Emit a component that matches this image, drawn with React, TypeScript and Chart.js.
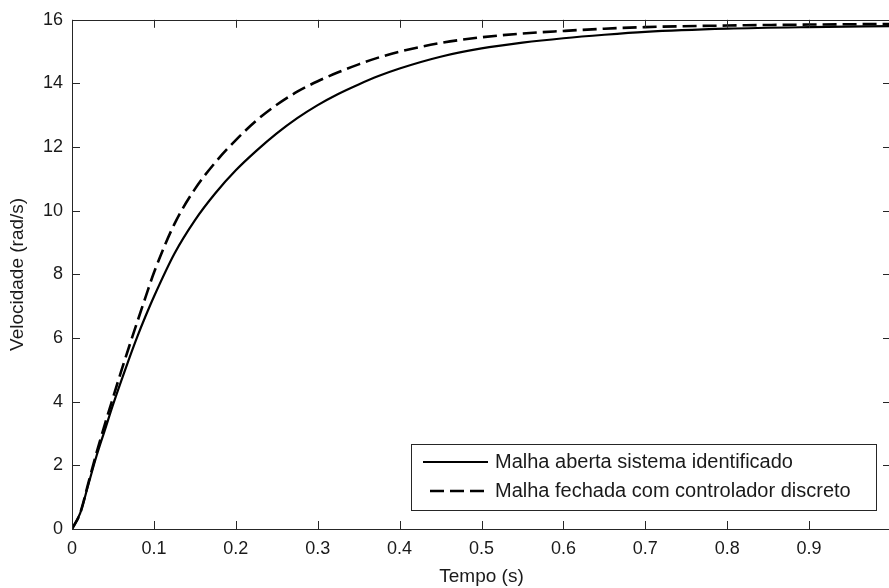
import React, { useEffect, useRef } from "react";
import { Chart, registerables } from "chart.js";

Chart.register(...registerables);

// ---- data ----
const timeSeconds = [
  0, 0.01, 0.02, 0.03, 0.04, 0.05, 0.06, 0.07, 0.08, 0.09, 0.1,
  0.125, 0.15, 0.175, 0.2, 0.225, 0.25, 0.275, 0.3, 0.325, 0.35, 0.375, 0.4,
  0.45, 0.5, 0.55, 0.6, 0.65, 0.7, 0.8, 0.9, 1.0,
];
const openLoopValues = [
  0, 0.5, 1.4, 2.3, 3.1, 3.9, 4.65, 5.37, 6.06, 6.7, 7.3,
  8.65, 9.7, 10.55, 11.27, 11.88, 12.43, 12.91, 13.32, 13.67, 13.97, 14.24, 14.47,
  14.84, 15.1, 15.28, 15.42, 15.53, 15.62, 15.72, 15.77, 15.8,
];
const closedLoopValues = [
  0, 0.5, 1.45, 2.4, 3.28, 4.12, 4.95, 5.75, 6.53, 7.3, 8.05,
  9.58, 10.68, 11.52, 12.22, 12.83, 13.33, 13.74, 14.07, 14.35, 14.6, 14.82, 15.0,
  15.27, 15.45, 15.57, 15.65, 15.72, 15.77, 15.82, 15.85, 15.87,
];
const seriesLabels = [
  "Malha aberta sistema identificado",
  "Malha fechada com controlador discreto",
];
const xTitle = "Tempo (s)";
const yTitle = "Velocidade (rad/s)";
const xRange = [0, 1];
const yRange = [0, 16];
const xStep = 0.1;
const yStep = 2;

const FONT = "'Liberation Sans', Arial, sans-serif";
const INK = "#1a1a1a";

const framePlugin = {
  id: "matlabFrame",
  afterDraw(chart: any) {
    const { ctx, chartArea: a, scales } = chart;
    ctx.save();
    ctx.strokeStyle = "#262626";
    ctx.lineWidth = 1;
    ctx.beginPath();
    ctx.rect(Math.round(a.left) + 0.5, Math.round(a.top) + 0.5, Math.round(a.right - a.left), Math.round(a.bottom - a.top));
    ctx.stroke();
    const tl = 8;
    ctx.beginPath();
    scales.x.ticks.forEach((t: any) => {
      const px = Math.round(scales.x.getPixelForValue(t.value)) + 0.5;
      ctx.moveTo(px, a.bottom);
      ctx.lineTo(px, a.bottom - tl);
      ctx.moveTo(px, a.top);
      ctx.lineTo(px, a.top + tl);
    });
    scales.y.ticks.forEach((t: any) => {
      const py = Math.round(scales.y.getPixelForValue(t.value)) + 0.5;
      ctx.moveTo(a.left, py);
      ctx.lineTo(a.left + tl, py);
      ctx.moveTo(a.right, py);
      ctx.lineTo(a.right - tl, py);
    });
    ctx.stroke();

    // legend box
    const boxW = 465;
    const boxH = 66;
    const R = a.right - 15;
    const B = a.bottom - 19;
    const L = R - boxW;
    const T = B - boxH;
    ctx.fillStyle = "#ffffff";
    ctx.fillRect(L, T, boxW, boxH);
    ctx.strokeStyle = "#262626";
    ctx.lineWidth = 1;
    ctx.strokeRect(Math.round(L) + 0.5, Math.round(T) + 0.5, boxW, boxH);
    const rows = [T + 18, T + 47];
    chart.data.datasets.forEach((ds: any, i: number) => {
      const y = rows[i];
      ctx.save();
      ctx.strokeStyle = ds.borderColor;
      ctx.lineWidth = ds.borderWidth;
      ctx.setLineDash(ds.borderDash || []);
      ctx.beginPath();
      if (ds.borderDash && ds.borderDash.length) {
        ctx.moveTo(L + 19, y);
      } else {
        ctx.moveTo(L + 12, y);
      }
      ctx.lineTo(L + 77, y);
      ctx.stroke();
      ctx.restore();
      ctx.fillStyle = INK;
      ctx.font = `20px ${FONT}`;
      ctx.textAlign = "left";
      ctx.textBaseline = "middle";
      ctx.fillText(ds.label, L + 84, y);
    });
    ctx.restore();
  },
};

export default function App() {
  const ref = useRef<HTMLCanvasElement | null>(null);
  useEffect(() => {
    if (!ref.current) return;
    const chart = new Chart(ref.current, {
      type: "line",
      data: {
        datasets: [
          {
            label: seriesLabels[0],
            data: timeSeconds.map((t, i) => ({ x: t, y: openLoopValues[i] })),
            borderColor: "#000000",
            borderWidth: 2.2,
            pointRadius: 0,
            cubicInterpolationMode: "monotone",
            fill: false,
          },
          {
            label: seriesLabels[1],
            data: timeSeconds.map((t, i) => ({ x: t, y: closedLoopValues[i] })),
            borderColor: "#000000",
            borderWidth: 2.6,
            borderDash: [14, 6],
            pointRadius: 0,
            cubicInterpolationMode: "monotone",
            fill: false,
          },
        ],
      },
      options: {
        responsive: false,
        animation: false,
        devicePixelRatio: 1,
        layout: { padding: { left: 0, top: 18, right: 7, bottom: 0 } },
        plugins: { legend: { display: false }, tooltip: { enabled: false } },
        scales: {
          x: {
            type: "linear",
            min: xRange[0],
            max: xRange[1],
            grid: { display: false, drawTicks: false },
            border: { display: false },
            ticks: {
              stepSize: xStep,
              color: INK,
              font: { family: FONT, size: 18 },
              padding: 9,
              maxRotation: 0,
              callback: (v: any) => {
                const n = Number(Number(v).toFixed(1));
                return n >= 1 ? "" : String(n);
              },
            },
            title: {
              display: true,
              text: xTitle,
              color: INK,
              font: { family: FONT, size: 19 },
              padding: { top: 0, bottom: 0 },
            },
            afterFit: (s: any) => {
              s.height = 59;
            },
          },
          y: {
            type: "linear",
            min: yRange[0],
            max: yRange[1],
            grid: { display: false, drawTicks: false },
            border: { display: false },
            ticks: {
              stepSize: yStep,
              color: INK,
              font: { family: FONT, size: 18 },
              padding: 9,
            },
            title: {
              display: true,
              text: yTitle,
              color: INK,
              font: { family: FONT, size: 19 },
              padding: { top: 6, bottom: 0 },
            },
            afterFit: (s: any) => {
              s.width = 72;
            },
          },
        },
      },
      plugins: [framePlugin],
    } as any);
    return () => chart.destroy();
  }, []);
  return (
    <div style={{ position: "fixed", left: 0, top: 0, width: 889, height: 588, overflow: "hidden", background: "#fff" }}>
      <canvas ref={ref} width={900} height={588} style={{ width: 900, height: 588, display: "block" }} />
    </div>
  );
}
